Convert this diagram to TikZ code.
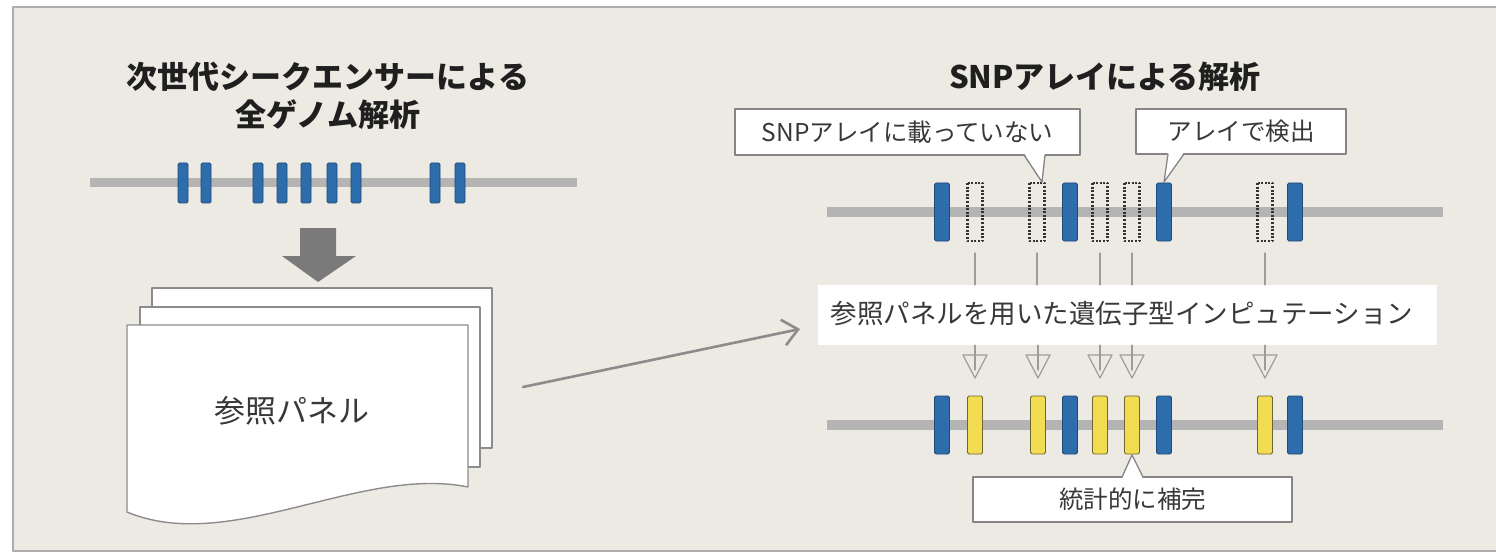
\documentclass[tikz,border=0pt]{standalone}
\usepackage{fontspec}
\setmainfont{Noto Sans CJK JP}
\usetikzlibrary{arrows.meta}
\definecolor{bgbeige}{HTML}{ECEAE2}
\definecolor{frameg}{HTML}{ADADAD}
\definecolor{chromg}{HTML}{B4B4B4}
\definecolor{snpblue}{HTML}{2E6DAC}
\definecolor{snpblued}{HTML}{1E4B78}
\definecolor{impyel}{HTML}{F2DD52}
\definecolor{impyeld}{HTML}{6E6434}
\definecolor{bigarrowg}{HTML}{7A7A7A}
\definecolor{tickg}{HTML}{9C9C9C}
\definecolor{boxg}{HTML}{858585}
\definecolor{txtg}{HTML}{383838}
\tikzset{
	chrom/.style={draw=chromg,line width=9pt,line cap=butt},
	bluebar/.style={fill=snpblue,draw=snpblued,line width=0.8pt,rounded corners=1.5pt},
	yelbar/.style={fill=impyel,draw=impyeld,line width=0.8pt,rounded corners=1.5pt},
	dotbar/.style={draw=black!80,line width=2.2pt,dash pattern=on 2pt off 1.6pt,line cap=butt},
	page/.style={draw=black!45,fill=white,line width=1.4pt},
	ttl/.style={inner sep=0pt,text=black!88,font=\fontsize{31}{38}\selectfont\bfseries},
	lbl/.style={inner sep=0pt,text=txtg},
	callbox/.style={draw=boxg,fill=white,line width=1.3pt,inner sep=0pt,text=txtg,font=\fontsize{24.5}{30}\selectfont},
	tick/.style={draw=tickg,line width=1.2pt}
}
\begin{document}
\begin{tikzpicture}[line cap=round,line join=round,>=stealth,x=1pt,y=-1pt]
				\useasboundingbox (0,0) rectangle (1496,556);
				\fill[white] (0,0) rectangle (1496,556);
				\fill[bgbeige] (13,7) rectangle (1496,551);
				\draw[frameg,line width=1.6pt,line cap=butt] (1496,7) -- (13,7) -- (13,551) -- (1496,551);
				\node[ttl] (ngs1) at (328,77) {次世代シークエンサーによる};
				\node[ttl] (ngs2) at (328,115) {全ゲノム解析};
				\draw[chrom] (90,183) -- (577,183);
				\draw[bluebar] (178,163) rectangle (188,203);
				\draw[bluebar] (201,163) rectangle (211,203);
				\draw[bluebar] (253,163) rectangle (263,203);
				\draw[bluebar] (277,163) rectangle (287,203);
				\draw[bluebar] (301,163) rectangle (311,203);
				\draw[bluebar] (327,163) rectangle (337,203);
				\draw[bluebar] (351,163) rectangle (361,203);
				\draw[bluebar] (430,163) rectangle (440,203);
				\draw[bluebar] (455,163) rectangle (465,203);
				\fill[bigarrowg] (300,228) -- (336,228) -- (336,256) -- (356,256) -- (318,282) -- (282,256) -- (300,256) -- cycle;
				\draw[page] (152,288) rectangle (492,448);
				\draw[page] (140,307) rectangle (480,467);
				\draw[page] (127,325) -- (468,325) -- (468,487) .. controls (360,465) and (230,555) .. (127,512) -- cycle;
				\node[lbl,font=\fontsize{31}{38}\selectfont] (panel) at (292,411) {参照パネル};
				\node[ttl] (snp) at (1105,77) {SNPアレイによる解析};
				\draw[chrom,line width=10pt] (827,212) -- (1443,212);
				\draw[chrom,line width=10pt] (827,425) -- (1443,425);
				\draw[bluebar] (934.5,183) rectangle (949.5,241);
				\draw[dotbar] (967.5,183) rectangle (982.5,241);
				\draw[dotbar] (1029.5,183) rectangle (1044.5,241);
				\draw[bluebar] (1062.5,183) rectangle (1077.5,241);
				\draw[dotbar] (1092.5,183) rectangle (1107.5,241);
				\draw[dotbar] (1124.5,183) rectangle (1139.5,241);
				\draw[bluebar] (1156.5,183) rectangle (1171.5,241);
				\draw[dotbar] (1257.5,183) rectangle (1272.5,241);
				\draw[bluebar] (1287.5,183) rectangle (1302.5,241);
				\draw[bluebar] (934.5,396) rectangle (949.5,454);
				\draw[yelbar] (967.5,396) rectangle (982.5,454);
				\draw[yelbar] (1030.5,396) rectangle (1045.5,454);
				\draw[bluebar] (1062.5,396) rectangle (1077.5,454);
				\draw[yelbar] (1092.5,396) rectangle (1107.5,454);
				\draw[yelbar] (1124.5,396) rectangle (1139.5,454);
				\draw[bluebar] (1156.5,396) rectangle (1171.5,454);
				\draw[yelbar] (1257.5,396) rectangle (1272.5,454);
				\draw[bluebar] (1287.5,396) rectangle (1302.5,454);
				\node[fill=white,minimum width=619pt,minimum height=60pt,inner sep=0pt] (imp) at (1127.5,315) {};
				\node[lbl,font=\fontsize{26.5}{32}\selectfont] (implbl) at (1122,314) {参照パネルを用いた遺伝子型インピュテーション};
				\coordinate (u1) at (975,253);
				\coordinate (u2) at (1037,253);
				\coordinate (u3) at (1100,253);
				\coordinate (u4) at (1132,253);
				\coordinate (u5) at (1265,253);
				\coordinate (l1) at (975,378);
				\coordinate (l2) at (1038,378);
				\coordinate (l3) at (1100,378);
				\coordinate (l4) at (1132,378);
				\coordinate (l5) at (1265,378);
				\draw[tick] (u1) -- (u1 |- imp.north);
				\draw[tick] (u2) -- (u2 |- imp.north);
				\draw[tick] (u3) -- (u3 |- imp.north);
				\draw[tick] (u4) -- (u4 |- imp.north);
				\draw[tick] (u5) -- (u5 |- imp.north);
				\draw[tick] (l1 |- imp.south) -- ([yshift=8pt]l1);
				\draw[tick] (l2 |- imp.south) -- ([yshift=8pt]l2);
				\draw[tick] (l3 |- imp.south) -- ([yshift=8pt]l3);
				\draw[tick] (l4 |- imp.south) -- ([yshift=8pt]l4);
				\draw[tick] (l5 |- imp.south) -- ([yshift=8pt]l5);
				\draw[tick] (l1) -- ++(-12,-23) -- ++(24,0) -- cycle;
				\draw[tick] (l2) -- ++(-12,-23) -- ++(24,0) -- cycle;
				\draw[tick] (l3) -- ++(-12,-23) -- ++(24,0) -- cycle;
				\draw[tick] (l4) -- ++(-12,-23) -- ++(24,0) -- cycle;
				\draw[tick] (l5) -- ++(-12,-23) -- ++(24,0) -- cycle;
				\coordinate (panelout) at (523,387);
				\coordinate (impin) at (800,329);
				\draw[draw=black!45,line width=2.6pt,-{Straight Barb[length=15pt,width=26pt]}] (panelout) -- (impin);
				\node[callbox,minimum width=345pt,minimum height=46pt] (notarr) at (907.5,132) {SNPアレイに載っていない};
				\fill[white] (1024,153) -- (1042,182) -- (1045,153) -- cycle;
				\draw[boxg,line width=1.3pt] (1024,155) -- (1042,182) -- (1045,155);
				\node[callbox,minimum width=210pt,minimum height=45pt] (onarr) at (1241,131.5) {アレイで検出};
				\fill[white] (1168,152) -- (1164,182) -- (1184,152) -- cycle;
				\draw[boxg,line width=1.3pt] (1168,154) -- (1164,182) -- (1184,154);
				\node[callbox,minimum width=319pt,minimum height=45pt] (stat) at (1132.5,499.5) {統計的に補完};
				\fill[white] (1122,479) -- (1132,455) -- (1143,479) -- cycle;
				\draw[boxg,line width=1.3pt] (1122,477) -- (1132,455) -- (1143,477);
			\end{tikzpicture}
\end{document}
